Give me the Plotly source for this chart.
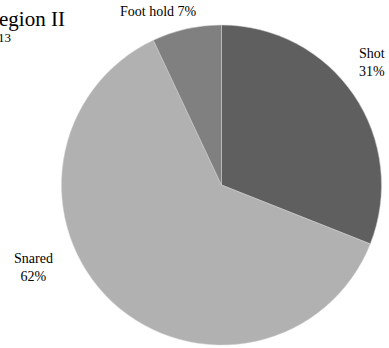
import plotly.graph_objects as go

# Capture methods, share of animals (%)
methods = ["Shot", "Snared", "Foot hold"]
shares = [31, 62, 7]
colors = ["#5f5f5f", "#b1b1b1", "#808080"]

title_text = "Region II"
subtitle_text = "2013"

W, H = 389, 348
cx, cy, r = 221.5, 185, 160

fig = go.Figure(go.Pie(
    labels=methods,
    values=shares,
    sort=False,
    direction="clockwise",
    rotation=0,
    marker=dict(colors=colors, line=dict(color="#d0d0d0", width=0.5)),
    textinfo="none",
    hoverinfo="label+percent",
    showlegend=False,
    domain=dict(x=[(cx - r) / W, (cx + r) / W], y=[(H - cy - r) / H, (H - cy + r) / H]),
))

font = dict(family="Liberation Serif, Times New Roman, serif", color="#000000", size=14)

# label placement (pixels from top-left)
label_pos = {
    "Foot hold": (158, 12, False),
    "Shot": (372, 63, True),
    "Snared": (33, 267, True),
}

annotations = []
for m, s in zip(methods, shares):
    x, y, two_lines = label_pos[m]
    txt = f"{m}<br>{s}%" if two_lines else f"{m} {s}%"
    annotations.append(dict(
        x=x / W, y=1 - y / H, xref="paper", yref="paper",
        text=txt, showarrow=False, font=font,
        xanchor="center", yanchor="middle", align="center",
    ))

# title block, anchored left of the page edge
annotations.append(dict(
    x=-17 / W, y=1 - 19 / H, xref="paper", yref="paper",
    text=title_text, showarrow=False,
    font=dict(family="Liberation Serif, Times New Roman, serif", size=21, color="#000000"),
    xanchor="left", yanchor="middle",
))
annotations.append(dict(
    x=-17 / W, y=1 - 37.5 / H, xref="paper", yref="paper",
    text=subtitle_text, showarrow=False,
    font=dict(family="Liberation Serif, Times New Roman, serif", size=13, color="#000000"),
    xanchor="left", yanchor="middle",
))

fig.update_layout(
    width=W, height=H,
    margin=dict(l=0, r=0, t=0, b=0),
    paper_bgcolor="white",
    plot_bgcolor="white",
    annotations=annotations,
)

fig.write_html("out.html")
